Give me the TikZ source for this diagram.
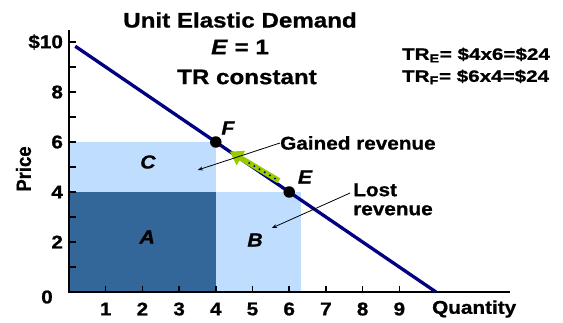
\documentclass[tikz,border=0pt]{standalone}
\usepackage{fontspec}
\setmainfont{Liberation Sans}[BoldFeatures={FakeBold=0.8},BoldItalicFeatures={FakeBold=0.8}]
\usetikzlibrary{arrows.meta,calc}
\definecolor{darkA}{RGB}{51,102,153}
\definecolor{lightB}{RGB}{191,222,255}
\definecolor{navyD}{RGB}{0,0,128}
\definecolor{greenArr}{RGB}{153,204,0}
\newcommand{\stretchx}[2][1.12]{\scalebox{#1}[1]{#2}}
\tikzset{
  lbl/.style={inner sep=0pt, font=\fontsize{18.5}{20}\selectfont\bfseries},
  ital/.style={inner sep=0pt, font=\fontsize{19}{20}\selectfont\bfseries\itshape},
  ttl/.style={inner sep=0pt, font=\fontsize{21}{24}\selectfont\bfseries},
  trl/.style={inner sep=0pt, anchor=west, font=\fontsize{16.5}{18}\selectfont\bfseries},
  axisline/.style={line width=2pt, black},
  tick/.style={line width=1.5pt, black},
  leader/.style={line width=0.8pt, black, -{Stealth[length=5pt,width=4pt]}},
  dot/.style={circle, fill=black, inner sep=0pt, minimum size=11.5pt},
}
\begin{document}
\begin{tikzpicture}
\useasboundingbox (0,0) rectangle (563pt,322pt);
\begin{scope}[shift={(69pt,30pt)}, x=36.7pt, y=25pt]
  % areas
  \fill[darkA] (0,0) rectangle (4,4);
  \fill[lightB] (0,4) rectangle (4,6);
  \fill[lightB] (4,0) rectangle (6.32,4);
  % axes
  \coordinate (O) at (0,0);
  \coordinate (ytop) at (0,10.48);
  \coordinate (xend) at (12.02,0);
  \draw[axisline] (ytop) -- (O) -- (xend);
  \foreach \i in {1,...,9} \draw[tick] (\i,0) -- (\i,0.26);
  \foreach \i in {1,...,10} \draw[tick] (0,\i) -- (0.18,\i);
  % tick labels
  \foreach \i in {1,...,9} \node[lbl] (xl\i) at (\i,-0.68) {\stretchx{\i}};
  \node[lbl] (qty) at (11.04,-0.68) {\stretchx{Quantity}};
  \foreach \i in {2,4,6,8} \node[lbl, anchor=east] (yl\i) at (-0.16,\i) {\stretchx{\i}};
  \node[lbl, anchor=east] (yl10) at (-0.16,10) {\stretchx{\$10}};
  \node[lbl] (yl0) at (-0.6,-0.2) {\stretchx{0}};
  \node[lbl, rotate=90] (price) at (-1.24,4.92) {\scalebox{1}[1.12]{Price}};
  % demand
  \coordinate (d0) at (0.17,9.83);
  \coordinate (d1) at (10,0);
  \draw[navyD, line width=3.3pt] (d0) -- (d1);
  % green arrow
  \coordinate (ga) at (5.72,4.45);
  \coordinate (gb) at (4.38,5.62);
  \draw[greenArr, line width=5.5pt, -{Triangle[length=13pt,width=16pt]}] (ga) -- (gb);
  \draw[navyD, line width=2.2pt, dash pattern=on 0pt off 6pt, line cap=round] ($(ga)!0.08!(gb)$) -- ($(ga)!0.7!(gb)$);
  % points
  \node[dot] (F) at (4,6) {};
  \node[dot] (E) at (6,4) {};
  \node[ital] (Fl) at (4.33,6.56) {\stretchx{F}};
  \node[ital] (El) at (6.43,4.6) {\stretchx{E}};
  \node[ital] (Al) at (2.13,2.2) {\stretchx{A}};
  \node[ital] (Bl) at (5.07,2.08) {\stretchx{B}};
  \node[ital] (Cl) at (2.15,5.2) {\stretchx{C}};
  % annotations
  \node[lbl, anchor=west] (gain) at (5.75,5.96) {\stretchx{Gained revenue}};
  \coordinate (gainT) at (3.51,4.88);
  \draw[leader] (gain.west) -- (gainT);
  \node[lbl, anchor=north west, align=left, font=\fontsize{18.5}{19}\selectfont\bfseries] (lost) at (7.74,4.35) {\stretchx{Lost}\\\stretchx{revenue}};
  \coordinate (lostS) at (7.66,3.96);
  \coordinate (lostT) at (5.53,2.56);
  \draw[leader] (lostS) -- (lostT);
  % title
  \node[ttl] (t1) at (4.66,10.88) {\stretchx[1.15]{Unit Elastic Demand}};
  \node[ttl] (t2) at (4.66,9.8) {\stretchx[1.15]{\textit{E} = 1}};
  \node[ttl] (t3) at (4.85,8.6) {\stretchx[1.15]{TR constant}};
  \node[trl] (tr1) at (9.07,9.48) {\stretchx[1.25]{TR\textsubscript{E}= \$4x6=\$24}};
  \node[trl] (tr2) at (9.07,8.6) {\stretchx[1.25]{TR\textsubscript{F}= \$6x4=\$24}};
\end{scope}
\end{tikzpicture}
\end{document}
